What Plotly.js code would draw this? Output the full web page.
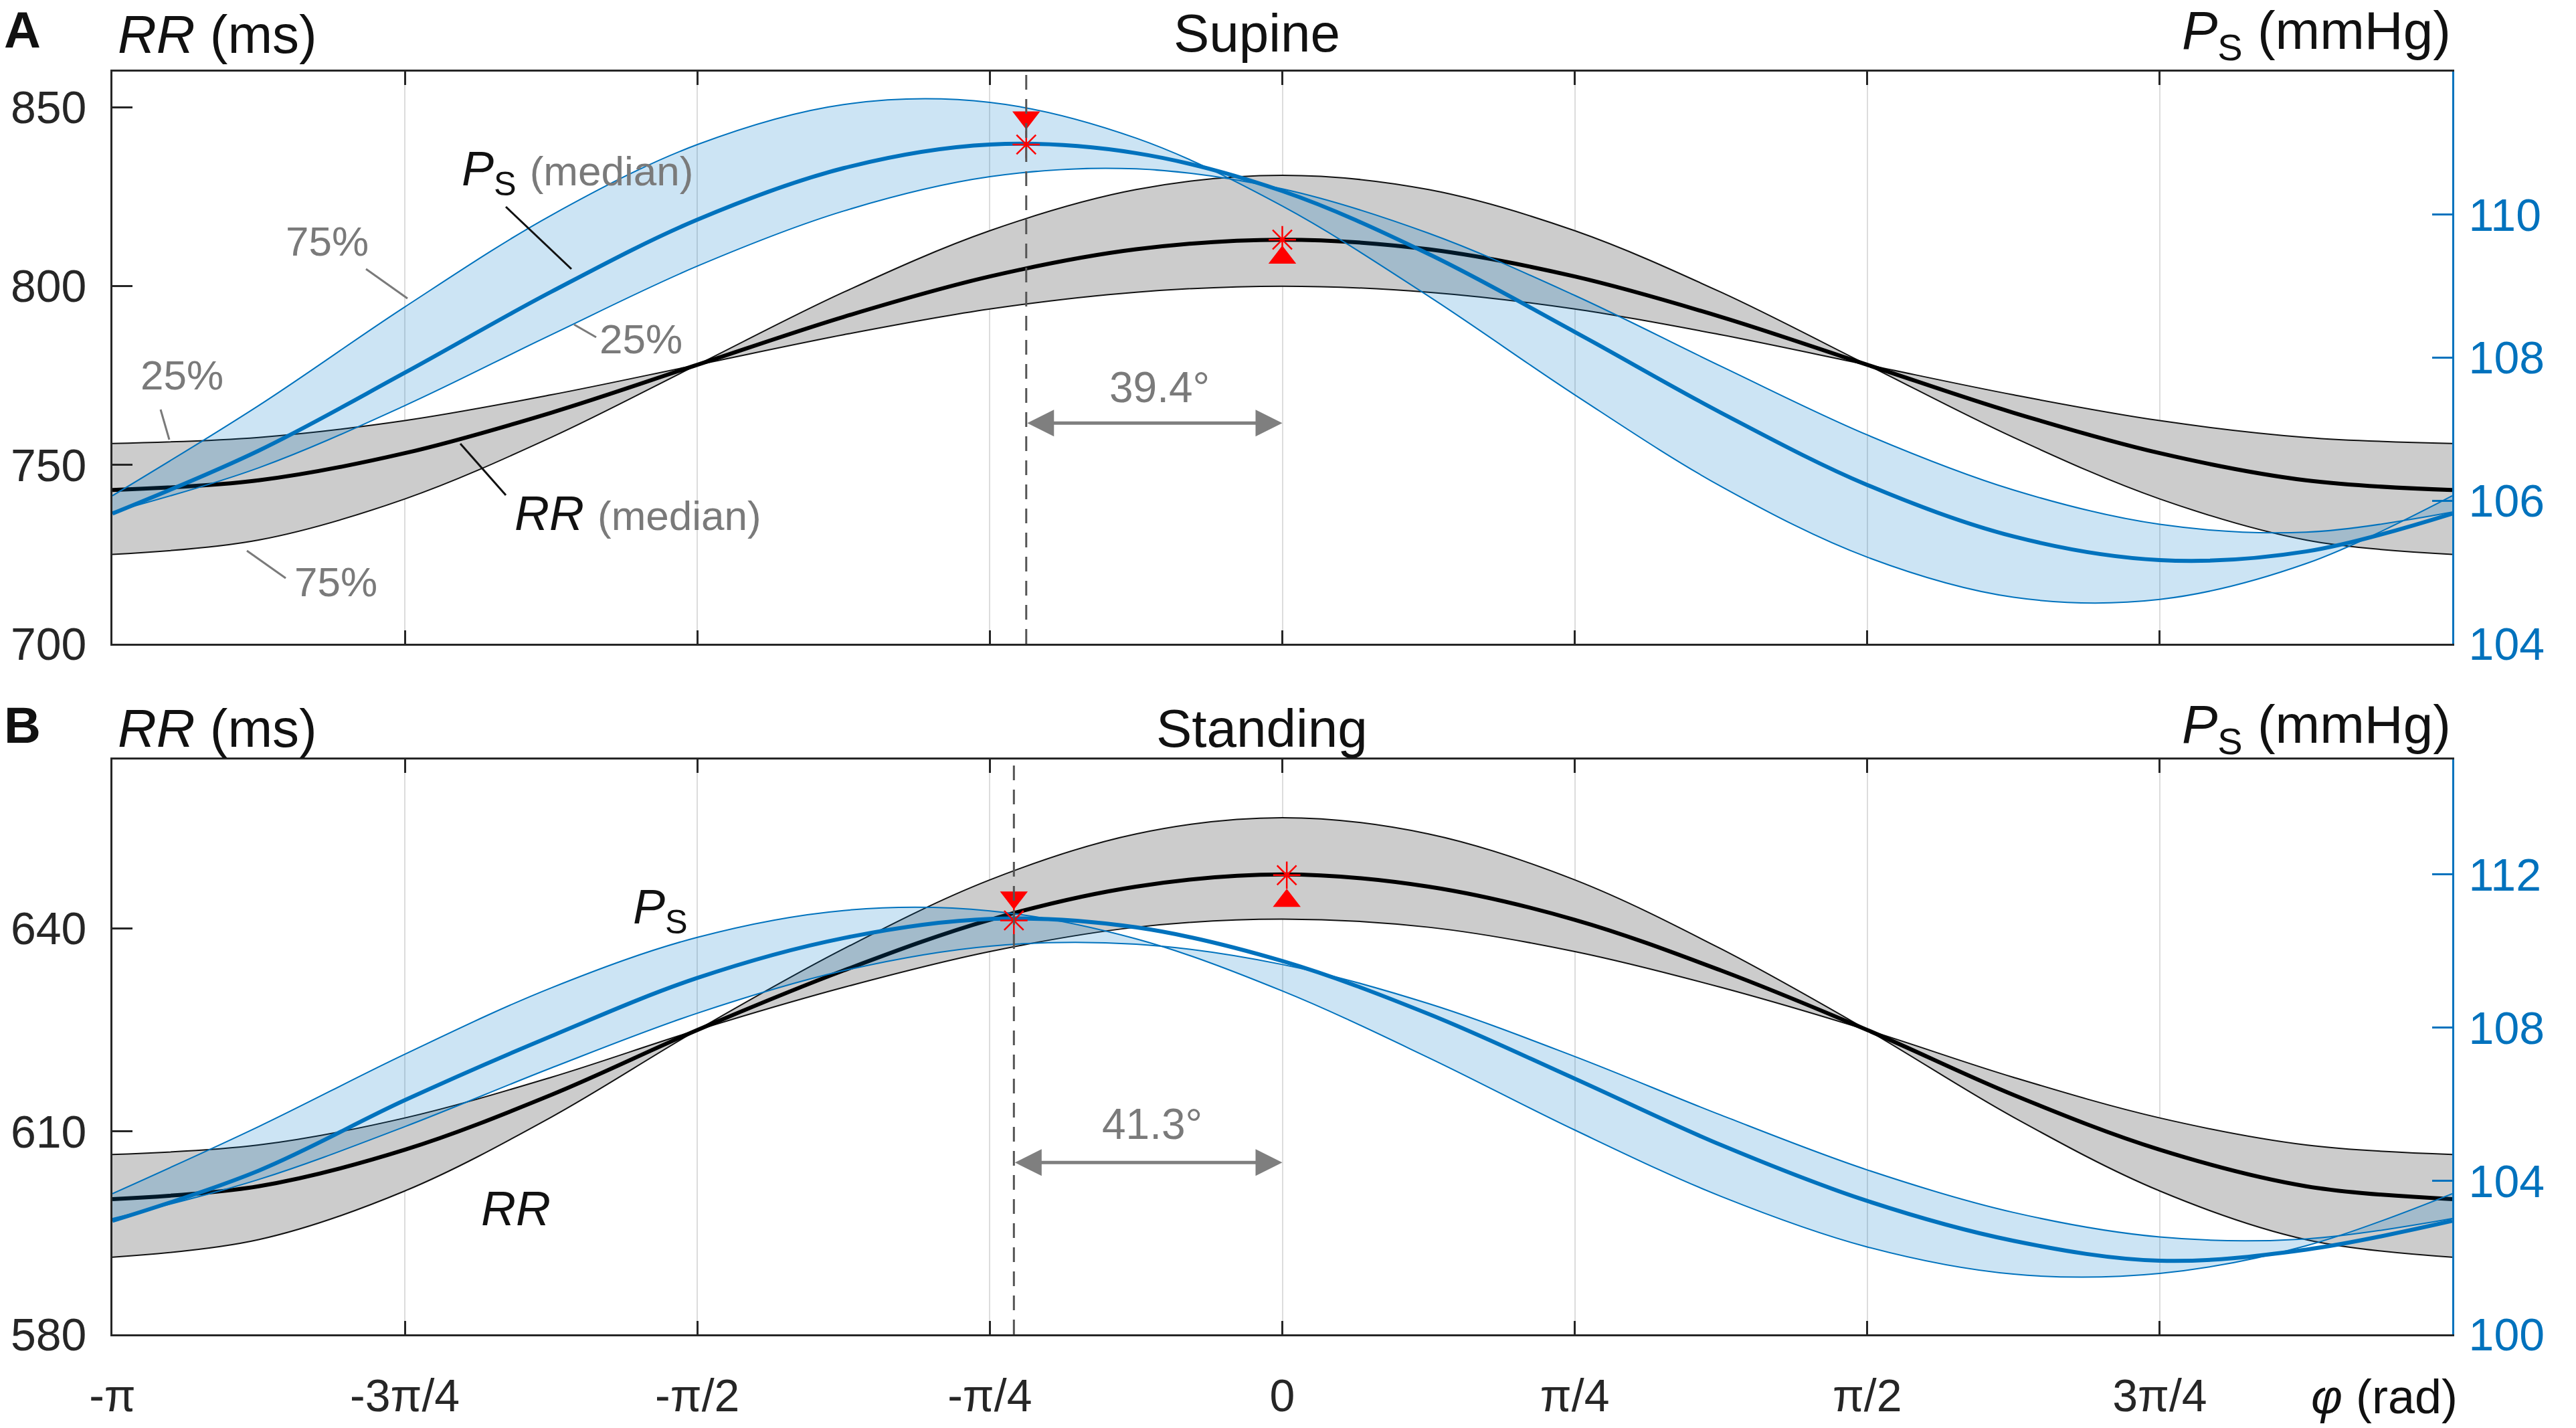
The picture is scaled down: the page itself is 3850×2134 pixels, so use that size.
<!DOCTYPE html>
<html>
<head>
<meta charset="utf-8">
<script src="https://cdn.plot.ly/plotly-3.0.1.min.js"></script>
<style>
  html, body { margin: 0; padding: 0; background: #fff; }
  #chart { width: 3850px; height: 2134px; }
</style>
</head>
<body>
<div id="chart"></div>
<script>
const W = 3850, H = 2134;
const FONT = "Liberation Sans, Arial, sans-serif";

// phase axis (rad), sampled every pi/8
const phi = [-3.1416, -2.7489, -2.3562, -1.9635, -1.5708, -1.1781, -0.7854, -0.3927, 0,
  0.3927, 0.7854, 1.1781, 1.5708, 1.9635, 2.3562, 2.7489, 3.1416];
const phiTicks = [-3.1416, -2.3562, -1.5708, -0.7854, 0, 0.7854, 1.5708, 2.3562, 3.1416];
const phiTickText = ["-π", "-3π/4", "-π/2", "-π/4", "0", "π/4", "π/2", "3π/4", ""];

// A: supine, RR (ms)
const rrSupMed = [743, 745.7, 753.3, 764.6, 778, 791.4, 802.7, 810.3, 813, 810.3, 802.7, 791.4, 778, 764.6, 753.3, 745.7, 743];
const rrSupQ75 = [725, 729.0, 740.5, 757.7, 778, 798.3, 815.5, 827.0, 831, 827.0, 815.5, 798.3, 778, 757.7, 740.5, 729.0, 725];
const rrSupQ25 = [756, 757.7, 762.4, 769.6, 778, 786.4, 793.6, 798.3, 800, 798.3, 793.6, 786.4, 778, 769.6, 762.4, 757.7, 756];
// A: supine, Ps (mmHg)
const psSupMed = [105.82, 106.70, 107.79, 108.92, 109.93, 110.65, 110.98, 110.86, 110.33, 109.45, 108.36, 107.23, 106.22, 105.50, 105.17, 105.29, 105.82];
const psSupQ75 = [106.07, 107.33, 108.71, 109.99, 110.98, 111.54, 111.57, 111.07, 110.12, 108.86, 107.48, 106.20, 105.21, 104.65, 104.62, 105.12, 106.07];
const psSupQ25 = [105.84, 106.46, 107.33, 108.32, 109.28, 110.05, 110.53, 110.64, 110.36, 109.74, 108.87, 107.88, 106.92, 106.15, 105.67, 105.56, 105.84];

// B: standing, RR (ms)
const rrStdMed = [600, 601.9, 607.3, 615.4, 625, 633.8, 641.3, 646.2, 648, 646.2, 641.3, 633.8, 625, 615.4, 607.3, 601.9, 600];
const rrStdQ75 = [591.4, 594.0, 601.2, 612.1, 625, 637.0, 647.2, 654.0, 656.4, 654.0, 647.2, 637.0, 625, 612.1, 601.2, 594.0, 591.4];
const rrStdQ25 = [606.6, 608.0, 612.0, 618.0, 625, 631.3, 636.6, 640.2, 641.4, 640.2, 636.6, 631.3, 625, 618.0, 612.0, 608.0, 606.6];
// B: standing, Ps (mmHg)
const psStdMed = [102.96, 104.27, 106.11, 107.78, 109.30, 110.34, 110.84, 110.62, 109.74, 108.36, 106.67, 104.94, 103.48, 102.44, 101.92, 102.21, 102.96];
const psStdQ75 = [103.67, 105.42, 107.31, 109.04, 110.36, 111.06, 111.05, 110.32, 108.96, 107.22, 105.33, 103.60, 102.28, 101.57, 101.59, 102.31, 103.67];
const psStdQ25 = [103.02, 104.04, 105.42, 106.95, 108.38, 109.49, 110.13, 110.18, 109.65, 108.63, 107.25, 105.72, 104.29, 103.18, 102.54, 102.49, 103.02];

// phase shift of the Ps peak vs the RR peak (deg)
const shiftDeg = [39.4, 41.3];
// peak markers: [asterisk, triangle]
const supPsPeak = [110.98, 111.36];
const supRRPeak = [813, 808.0];
const stdPsPeak = [110.80, 111.40];
const stdRRPeak = [647.9, 644.1];
const stdRRPeakPhi = 0.012;

const BLUE = "#0072BD";
const AXIS = "#262626";
const GREY_TXT = "#7a7a7a";
const deg2rad = (d) => (d * Math.PI) / 180;

function band(xa, ya, q75, q25, med, edge, fill, medColor) {
  return [
    { x: phi, y: q75, xaxis: xa, yaxis: ya, mode: "lines",
      line: { color: edge, width: 2, shape: "spline" } },
    { x: phi, y: q25, xaxis: xa, yaxis: ya, mode: "lines", fill: "tonexty", fillcolor: fill,
      line: { color: edge, width: 2, shape: "spline" } },
    { x: phi, y: med, xaxis: xa, yaxis: ya, mode: "lines",
      line: { color: medColor, width: 6, shape: "spline" } },
  ];
}

function peakMarks(xa, ya, x, vals, triSymbol) {
  return [
    { x: [x], y: [vals[1]], xaxis: xa, yaxis: ya, mode: "markers",
      marker: { symbol: triSymbol, size: 36, color: "#ff0000" } },
    { x: [x], y: [vals[0]], xaxis: xa, yaxis: ya, mode: "markers",
      marker: { symbol: "asterisk-open", size: 34, color: "#ff0000", line: { color: "#ff0000", width: 2.5 } } },
  ];
}

const shiftA = -deg2rad(shiftDeg[0]);
const shiftB = -deg2rad(shiftDeg[1]);

const data = [
  ...band("x", "y", rrSupQ75, rrSupQ25, rrSupMed, "#111111", "#cccccc", "#000000"),
  ...band("x", "y2", psSupQ75, psSupQ25, psSupMed, BLUE, "rgba(0,120,200,0.2)", BLUE),
  ...band("x2", "y3", rrStdQ75, rrStdQ25, rrStdMed, "#111111", "#cccccc", "#000000"),
  ...band("x2", "y4", psStdQ75, psStdQ25, psStdMed, BLUE, "rgba(0,120,200,0.2)", BLUE),
  ...peakMarks("x", "y2", shiftA, supPsPeak, "triangle-down"),
  ...peakMarks("x", "y", 0, supRRPeak, "triangle-up"),
  ...peakMarks("x2", "y4", shiftB, stdPsPeak, "triangle-down"),
  ...peakMarks("x2", "y3", stdRRPeakPhi, stdRRPeak, "triangle-up"),
];

const xDomain = [168 / W, 3665 / W];
const tickFont = { family: FONT, size: 68, color: AXIS };

function xAxis(anchor, showLabels) {
  return {
    domain: xDomain, anchor: anchor, range: [-Math.PI, Math.PI],
    tickmode: "array", tickvals: phiTicks, ticktext: phiTickText,
    showticklabels: showLabels, ticks: "inside", ticklen: 20, tickwidth: 3, tickcolor: AXIS,
    showline: true, linecolor: AXIS, linewidth: 3, mirror: "ticks",
    showgrid: true, gridcolor: "#dcdcdc", gridwidth: 2, zeroline: false,
    tickfont: tickFont, ticklabelstandoff: 30,
  };
}

function yLeft(domain, range, ticks, anchor) {
  return {
    domain: domain, anchor: anchor, range: range, tickmode: "array", tickvals: ticks,
    ticks: "inside", ticklen: 30, tickwidth: 3, tickcolor: AXIS,
    showline: true, linecolor: AXIS, linewidth: 3, showgrid: false, zeroline: false,
    tickfont: tickFont, ticklabelstandoff: 22,
  };
}

function yRight(over, range, ticks, anchor) {
  return {
    overlaying: over, side: "right", anchor: anchor, range: range, tickmode: "array", tickvals: ticks,
    ticks: "inside", ticklen: 30, tickwidth: 3, tickcolor: BLUE,
    showline: true, linecolor: BLUE, linewidth: 3, showgrid: false, zeroline: false,
    tickfont: { family: FONT, size: 68, color: BLUE }, ticklabelstandoff: 8,
  };
}

// text placed in page pixels
function txt(px, py, text, size, extra) {
  return Object.assign({
    xref: "paper", yref: "paper", x: px / W, y: 1 - py / H, text: text, showarrow: false,
    xanchor: "center", yanchor: "middle", font: { family: FONT, size: size, color: "#111111" },
  }, extra || {});
}

function leader(x0, y0, x1, y1, color) {
  return { type: "line", xref: "paper", yref: "paper", x0: x0 / W, y0: 1 - y0 / H,
    x1: x1 / W, y1: 1 - y1 / H, line: { color: color, width: 3 } };
}

function shiftArrow(xa, ya, x0, yv) {
  return { xref: xa, yref: ya, axref: xa, ayref: ya, x: 0, y: yv, ax: x0, ay: yv, text: "",
    showarrow: true, arrowside: "end+start", arrowhead: 2, startarrowhead: 2,
    arrowsize: 1.6, startarrowsize: 1.6, arrowwidth: 5, arrowcolor: "#7f7f7f", standoff: 0, startstandoff: 0 };
}

const med = (s) => `<span style="font-size:62px;color:${GREY_TXT}">${s}</span>`;
const gray = { font: { family: FONT, size: 62, color: GREY_TXT } };

const annotations = [
  txt(4, 44, "<b>A</b>", 76, { xanchor: "left" }),
  txt(174, 52, "<i>RR</i> (ms)", 80, { xanchor: "left" }),
  txt(1878, 50, "Supine", 80),
  txt(3665, 52, "<i>P</i><sub>S</sub> (mmHg)", 80, { xanchor: "right" }),
  txt(4, 1083, "<b>B</b>", 76, { xanchor: "left" }),
  txt(174, 1088, "<i>RR</i> (ms)", 80, { xanchor: "left" }),
  txt(1886, 1088, "Standing", 80),
  txt(3665, 1088, "<i>P</i><sub>S</sub> (mmHg)", 80, { xanchor: "right" }),

  txt(688, 257, "<i>P</i><sub>S</sub> " + med("(median)"), 72, { xanchor: "left" }),
  txt(489, 360, "75%", 62, gray),
  txt(958, 507, "25%", 62, gray),
  txt(272, 560, "25%", 62, gray),
  txt(502, 869, "75%", 62, gray),
  txt(767, 767, "<i>RR</i> " + med("(median)"), 72, { xanchor: "left" }),
  txt(1733, 579, "39.4°", 64, { font: { family: FONT, size: 64, color: GREY_TXT } }),
  shiftArrow("x", "y", shiftA, 761.7),

  txt(987, 1360, "<i>P</i><sub>S</sub>", 72),
  txt(771, 1806, "<i>RR</i>", 72),
  txt(1722, 1680, "41.3°", 64, { font: { family: FONT, size: 64, color: GREY_TXT } }),
  shiftArrow("x2", "y3", shiftB, 605.4),

  txt(3675, 2087, "<i>φ</i> (rad)", 72, { xanchor: "right" }),
];

const shapes = [
  leader(756, 309, 854, 402, "#111111"),
  leader(547, 402, 609, 446, GREY_TXT),
  leader(858, 485, 891, 504, GREY_TXT),
  leader(240, 612, 253, 657, GREY_TXT),
  leader(369, 823, 427, 864, GREY_TXT),
  leader(688, 663, 756, 740, "#111111"),
  { type: "line", xref: "x", yref: "y domain", x0: shiftA, x1: shiftA, y0: 0, y1: 1,
    line: { color: "#555555", width: 3, dash: "22px,14px" } },
  { type: "line", xref: "x2", yref: "y3 domain", x0: shiftB, x1: shiftB, y0: 0, y1: 1,
    line: { color: "#555555", width: 3, dash: "22px,14px" } },
];

const layout = {
  width: W, height: H,
  margin: { l: 0, r: 0, t: 0, b: 0 },
  paper_bgcolor: "#ffffff", plot_bgcolor: "#ffffff",
  showlegend: false, hovermode: false,
  font: { family: FONT, color: AXIS },
  xaxis: xAxis("y", false),
  yaxis: yLeft([1 - 962 / H, 1 - 107 / H], [700, 860], [700, 750, 800, 850], "x"),
  yaxis2: yRight("y", [104, 112], [104, 106, 108, 110], "x"),
  xaxis2: xAxis("y3", true),
  yaxis3: yLeft([1 - 1994 / H, 1 - 1135 / H], [580, 665], [580, 610, 640], "x2"),
  yaxis4: yRight("y3", [100, 115], [100, 104, 108, 112], "x2"),
  annotations: annotations,
  shapes: shapes,
};

Plotly.newPlot("chart", data, layout, { staticPlot: true, displayModeBar: false });
</script>
</body>
</html>
